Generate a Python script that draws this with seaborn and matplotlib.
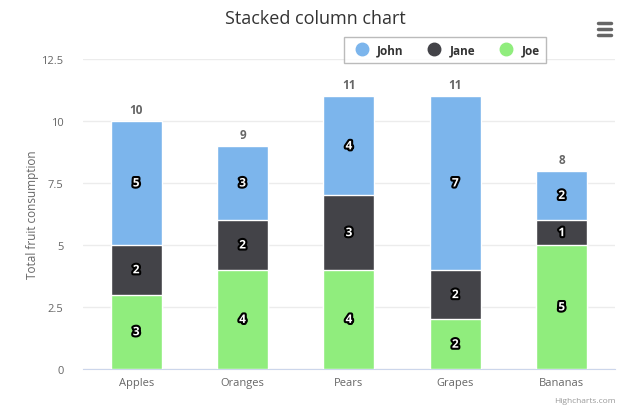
import numpy as np
import pandas as pd
import seaborn as sns
from matplotlib import pyplot as plt
from matplotlib import patheffects as pe
from matplotlib.lines import Line2D

sns.set_style('white')
plt.rcParams['font.family'] = ['Open Sans', 'DejaVu Sans']

fruits = ['Apples', 'Oranges', 'Pears', 'Grapes', 'Bananas']
john = [5, 3, 4, 7, 2]
jane = [2, 2, 3, 2, 1]
joe = [3, 4, 4, 2, 5]
yticks = [0, 2.5, 5, 7.5, 10, 12.5]
ytick_labels = ['0', '2.5', '5', '7.5', '10', '12.5']

colors = {'John': '#7cb5ec', 'Jane': '#434348', 'Joe': '#90ed7d'}

df = pd.DataFrame({'fruit': fruits, 'John': john, 'Jane': jane, 'Joe': joe})
df['top_joe'] = df['Joe']
df['top_jane'] = df['Joe'] + df['Jane']
df['top_john'] = df['top_jane'] + df['John']

fig = plt.figure(figsize=(6.31, 4.14), dpi=100)
ax = fig.add_axes([0.1315, 0.1063, 0.843, 0.7487])

# stacked columns: draw cumulative heights from the top layer down
for col, name in [('top_john', 'John'), ('top_jane', 'Jane'), ('top_joe', 'Joe')]:
    sns.barplot(data=df, x='fruit', y=col, order=fruits, color=colors[name],
                saturation=1, width=0.48, edgecolor='white', linewidth=1,
                ax=ax, zorder=3)

# segment labels
outline = [pe.withStroke(linewidth=3, foreground='black')]
for i, f in enumerate(fruits):
    segs = [(0, joe[i]), (joe[i], jane[i]), (joe[i] + jane[i], john[i])]
    for base, h in segs:
        ax.text(i, base + h / 2, str(h), ha='center', va='center', color='white',
                fontsize=8.5, fontweight='bold', path_effects=outline, zorder=5)
    total = joe[i] + jane[i] + john[i]
    ax.text(i, total + 0.2, str(total), ha='center', va='bottom', color='#666666',
            fontsize=8.5, fontweight='bold', zorder=5)

ax.set_xlim(-0.5, len(fruits) - 0.5)
ax.set_ylim(0, 12.5)
ax.set_yticks(yticks)
ax.set_yticklabels(ytick_labels)
ax.set_xticks(range(len(fruits)))
ax.set_xticklabels(fruits)
ax.set_xticks(np.arange(-0.5, len(fruits), 1), minor=True)
ax.tick_params(axis='x', which='major', length=0, pad=6, labelsize=8, labelcolor='#666666')
ax.tick_params(axis='x', which='minor', length=9, color='#ccd6eb', width=1)
ax.tick_params(axis='y', length=0, pad=14, labelsize=8, labelcolor='#666666')
ax.yaxis.grid(True, color='#ececec', linewidth=1, zorder=0)
ax.set_axisbelow(True)
for s in ['top', 'right', 'left']:
    ax.spines[s].set_visible(False)
ax.spines['bottom'].set_color('#ccd6eb')
ax.set_xlabel('')
ax.set_ylabel('Total fruit consumption', fontsize=8.5, color='#666666')
ax.yaxis.set_label_coords(-0.083, 0.5)

fig.suptitle('Stacked column chart', x=0.5, y=0.975, fontsize=13, color='#333333')

handles = [Line2D([], [], marker='o', linestyle='', markersize=9,
                  markerfacecolor=colors[n], markeredgecolor=colors[n])
           for n in ['John', 'Jane', 'Joe']]
leg = fig.legend(handles, ['John', 'Jane', 'Joe'], ncol=3, loc='center',
                 bbox_to_anchor=(0.705, 0.877), frameon=True, fancybox=False,
                 edgecolor='#aaaaaa', handletextpad=0.3, columnspacing=1.6,
                 borderpad=0.55, prop={'weight': 'bold', 'size': 8.5})
leg.get_frame().set_linewidth(1)
for t in leg.get_texts():
    t.set_color('#333333')

# menu icon
for yy in [0.941, 0.927, 0.913]:
    fig.add_artist(Line2D([0.947, 0.968], [yy, yy], color='#666666', linewidth=2.5))

fig.text(0.975, 0.03, 'Highcharts.com', ha='right', va='center', fontsize=6, color='#999999')

fig.savefig('out.png', dpi=100)
